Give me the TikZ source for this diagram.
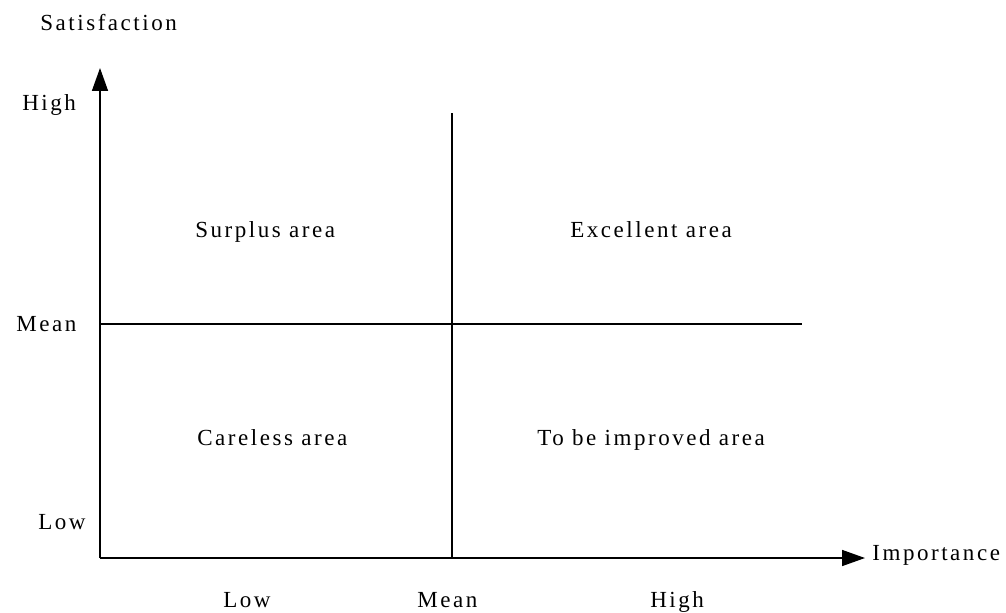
\documentclass[tikz,border=0pt]{standalone}
\usepackage{fontspec}
\setmainfont{Liberation Serif}[LetterSpace=11]
\usetikzlibrary{arrows.meta}
\begin{document}
\begin{tikzpicture}[x=0.02cm,y=-0.02cm,
  lbl/.style={inner sep=0pt,anchor=base west,font=\fontsize{13.1pt}{15pt}\selectfont},
  axisline/.style={line width=0.85pt,-{Triangle[length=0.46cm,width=0.32cm]}},
  divline/.style={line width=0.85pt}]
\useasboundingbox (0,0) rectangle (1006,612);
\coordinate (O) at (100,558);
\coordinate (ytip) at (100,68);
\coordinate (xtip) at (865,558);
\coordinate (vtop) at (452,113);
\coordinate (vbot) at (452,558);
\coordinate (hleft) at (100,324);
\coordinate (hright) at (802,324);
\draw[axisline] (O) -- (ytip);
\draw[axisline] (O) -- (xtip);
\draw[divline] (vtop) -- (vbot);
\draw[divline] (hleft) -- (hright);
\node[lbl] (sat) at (40,31) {Satisfaction};
\node[lbl] (yhigh) at (22,110) {High};
\node[lbl] (ymean) at (16,331) {Mean};
\node[lbl] (ylow) at (38,529) {Low};
\node[lbl] (surplus) at (195,237) {Surplus area};
\node[lbl] (excellent) at (570,237) {Excellent area};
\node[lbl] (careless) at (197,445) {Careless area};
\node[lbl] (improve) at (537,445) {To be improved area};
\node[lbl] (xlow) at (223,607) {Low};
\node[lbl] (xmean) at (417,607) {Mean};
\node[lbl] (xhigh) at (650,607) {High};
\node[lbl] (imp) at (872,560) {Importance};
\end{tikzpicture}
\end{document}
